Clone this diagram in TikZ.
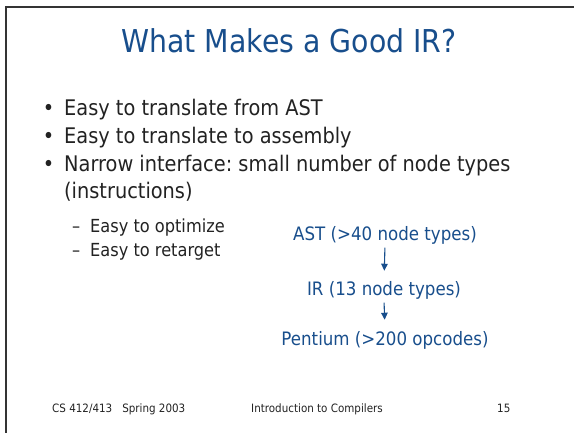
\documentclass[tikz,border=0pt]{standalone}
\usepackage{fontspec}
\setmainfont{DejaVu Sans}[FakeStretch=0.9]
\usetikzlibrary{arrows.meta}
\definecolor{titleblue}{RGB}{24,78,140}
\definecolor{bodytext}{RGB}{34,34,34}
\definecolor{framegray}{RGB}{52,52,52}
\tikzset{
  slidetitle/.style={text=titleblue,inner sep=0pt,font=\fontsize{31.5}{38}\selectfont},
  bulletitem/.style={text=bodytext,inner sep=0pt,anchor=base west,font=\fontsize{21.5}{26}\selectfont},
  subitem/.style={text=bodytext,inner sep=0pt,anchor=base west,font=\fontsize{18}{22}\selectfont},
  flowbox/.style={text=titleblue,inner sep=0pt,anchor=base,font=\fontsize{18.5}{22}\selectfont},
  flowarrow/.style={draw=titleblue,line width=1.1pt,-{Triangle[width=6.5pt,length=7pt]},
    shorten <=2.5pt,shorten >=11pt},
  footer/.style={text=bodytext,inner sep=0pt,anchor=base west,font=\fontsize{11.5}{14}\selectfont},
}
\newcommand{\itemdot}{\llap{•\hspace{9.8pt}}}
\newcommand{\itemdash}{\llap{–\hspace{9.9pt}}}
\begin{document}
\begin{tikzpicture}[x=1pt,y=-1pt]
\useasboundingbox (0,0) rectangle (574,433);
% slide frame (top and left edges)
\draw[framegray,line width=2.4pt] (6,433) -- (6,7) -- (574,7);

% title
\node[slidetitle,anchor=base] (title) at (289,53) {What Makes a Good IR?};

% bullet list
\node[bulletitem] (b1) at (64,116) {\itemdot Easy to translate from AST};
\node[bulletitem] (b2) at (64,144) {\itemdot Easy to translate to assembly};
\node[bulletitem] (b3) at (64,172) {\itemdot Narrow interface:\ small number of node types};
\node[bulletitem] (b3b) at (64,199) {(instructions)};
\node[subitem] (s1) at (90,233) {\itemdash Easy to optimize};
\node[subitem] (s2) at (90,257) {\itemdash Easy to retarget};

% translation chain
\node[flowbox] (ast) at (385,241) {AST (>40 node types)};
\node[flowbox] (ir) at (384,296) {IR (13 node types)};
\node[flowbox] (pent) at (385,345) {Pentium (>200 opcodes)};
\draw[flowarrow] (ast.south) -- (ir.north);
\draw[flowarrow] (ir.south) -- (pent.north);

% footer
\node[footer] (course) at (52,412) {CS 412/413\hspace{10pt}Spring 2003};
\node[footer] (topic) at (251,412) {Introduction to Compilers};
\node[footer] (page) at (497,412) {15};
\end{tikzpicture}
\end{document}
